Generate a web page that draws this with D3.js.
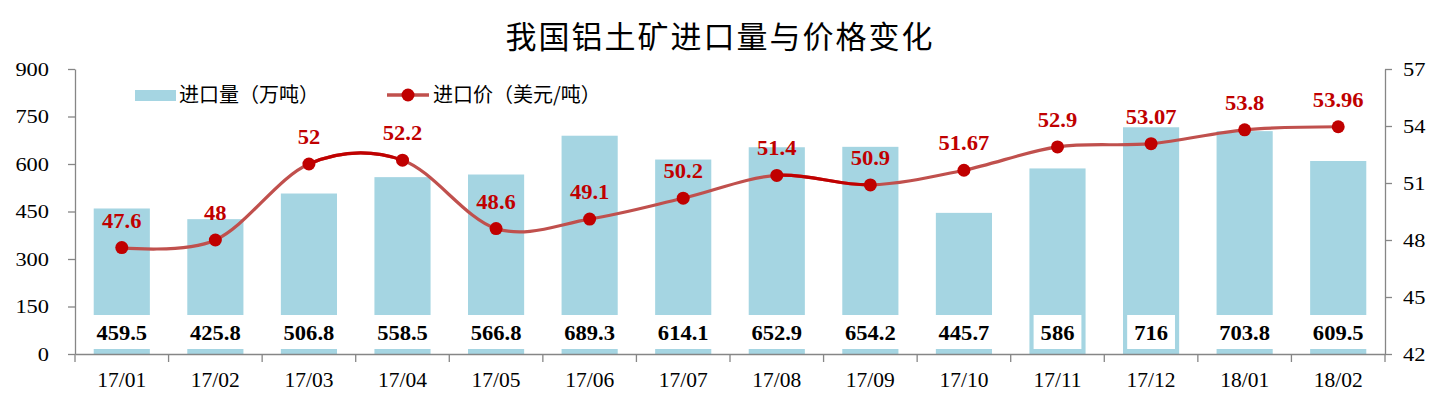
<!DOCTYPE html>
<html><head><meta charset="utf-8">
<script src="https://cdn.jsdelivr.net/npm/d3@7"></script>
<style>
body{margin:0;background:#fff;}
svg{display:block;}
</style></head>
<body>
<svg id="chart" width="1443" height="396"></svg>
<script>
const categories = ["17/01","17/02","17/03","17/04","17/05","17/06","17/07","17/08","17/09","17/10","17/11","17/12","18/01","18/02"];
const volumes = [459.5,425.8,506.8,558.5,566.8,689.3,614.1,652.9,654.2,445.7,586,716,703.8,609.5];
const volumeLabels = ["459.5","425.8","506.8","558.5","566.8","689.3","614.1","652.9","654.2","445.7","586","716","703.8","609.5"];
const prices = [47.6,48,52,52.2,48.6,49.1,50.2,51.4,50.9,51.67,52.9,53.07,53.8,53.96];
const priceLabels = ["47.6","48","52","52.2","48.6","49.1","50.2","51.4","50.9","51.67","52.9","53.07","53.8","53.96"];
const leftTicks = [0,150,300,450,600,750,900];
const rightTicks = [42,45,48,51,54,57];
const darkSegments = [[2,3],[7,8]];
const title = "我国铝土矿进口量与价格变化";
const legendBar = "进口量（万吨）";
const legendLine = "进口价（美元/吨）";

const svg = d3.select("#chart");
const L = 75, R = 1385, T = 69, B = 354;
const serif = "'Liberation Serif','Times New Roman',serif";
const cjk = "'Noto Sans CJK SC','Noto Sans',sans-serif";
const axisColor = "#868686";
const barColor = "#A5D5E2";
const lineColor = "#C0504D";
const darkRed = "#C00000";
const SX_TICK = 1.15, SX_LBL = 1.1;

const x = d3.scaleBand().domain(categories).range([L, R]).paddingInner(0.4).paddingOuter(0.2);
const xb = d3.scaleBand().domain(categories).range([L, R]);
const yL = d3.scaleLinear().domain([0, 900]).range([B, T]);
const yR = d3.scaleLinear().domain([42, 57]).range([B, T]);

// title
svg.append("text").attr("x", 720).attr("y", 48).attr("text-anchor", "middle")
  .attr("font-family", cjk).attr("font-size", 31).attr("letter-spacing", 2).attr("fill", "#000").text(title);

// bars
svg.append("g").selectAll("rect").data(volumes).join("rect")
  .attr("x", (d, i) => x(categories[i])).attr("width", x.bandwidth())
  .attr("y", d => yL(d)).attr("height", d => B - yL(d)).attr("fill", barColor);

// axes
const axL = d3.axisLeft(yL).tickValues(leftTicks).tickSize(7).tickSizeOuter(0).tickPadding(19);
const gL = svg.append("g").attr("transform", `translate(${L},0)`).call(axL);
const axR = d3.axisRight(yR).tickValues(rightTicks).tickSize(7).tickSizeOuter(0).tickPadding(11);
const gR = svg.append("g").attr("transform", `translate(${R},0)`).call(axR);
const axX = d3.axisBottom(xb).tickSize(0).tickSizeOuter(0).tickPadding(18);
const gX = svg.append("g").attr("transform", `translate(0,${B})`).call(axX);
const bounds = categories.map(c => xb(c)).concat([R]);
svg.append("g").selectAll("line").data(bounds).join("line")
  .attr("x1", d => d).attr("x2", d => d).attr("y1", B).attr("y2", B + 8)
  .attr("stroke", axisColor).attr("stroke-width", 1.3);

[gL, gR, gX].forEach(g => {
  g.select(".domain").attr("stroke", axisColor).attr("stroke-width", 1.3);
  g.selectAll(".tick line").attr("stroke", axisColor).attr("stroke-width", 1.3);
  g.selectAll(".tick text").attr("font-family", serif).attr("font-size", 19.5).attr("fill", "#000");
});
gL.selectAll(".tick text").attr("x", -26 / SX_TICK).attr("transform", `scale(${SX_TICK},1)`);
gR.selectAll(".tick text").attr("x", 18 / SX_TICK).attr("transform", `scale(${SX_TICK},1)`);
gX.selectAll(".tick text").attr("font-size", 21.5);

// value label boxes
const vl = svg.append("g");
volumes.forEach((v, i) => {
  const cx = x(categories[i]) + x.bandwidth() / 2;
  const t = vl.append("text").attr("x", 0).attr("y", 0).attr("text-anchor", "middle")
    .attr("transform", `translate(${cx},340) scale(${SX_LBL},1)`)
    .attr("font-family", serif).attr("font-weight", "bold").attr("font-size", 20.5).attr("fill", "#000")
    .text(volumeLabels[i]);
  const w = t.node().getComputedTextLength() * SX_LBL + 14;
  vl.insert("rect", "text").attr("x", cx - w / 2).attr("y", 315).attr("width", w).attr("height", 34)
    .attr("fill", "#fff");
});

// line
const pts = prices.map((p, i) => [x(categories[i]) + x.bandwidth() / 2, yR(p)]);
const lineGen = d3.line().curve(d3.curveCardinal.tension(0));
svg.append("path").attr("d", lineGen(pts)).attr("fill", "none").attr("stroke", lineColor).attr("stroke-width", 3.2);
const defs = svg.append("defs");
darkSegments.forEach((s, k) => {
  defs.append("clipPath").attr("id", "seg" + k).append("rect")
    .attr("x", pts[s[0]][0]).attr("width", pts[s[1]][0] - pts[s[0]][0]).attr("y", 0).attr("height", 396);
  svg.append("path").attr("d", lineGen(pts)).attr("fill", "none").attr("stroke", darkRed)
    .attr("stroke-width", 3.2).attr("clip-path", `url(#seg${k})`);
});
svg.append("g").selectAll("circle").data(pts).join("circle")
  .attr("cx", d => d[0]).attr("cy", d => d[1]).attr("r", 6.5).attr("fill", darkRed);
svg.append("g").selectAll("text").data(pts).join("text")
  .attr("x", 0).attr("y", 0).attr("text-anchor", "middle")
  .attr("transform", d => `translate(${d[0]},${d[1] - 20}) scale(${SX_LBL},1)`)
  .attr("font-family", serif).attr("font-weight", "bold").attr("font-size", 20.5).attr("fill", darkRed)
  .text((d, i) => priceLabels[i]);

// legend
svg.append("rect").attr("x", 135).attr("y", 90).attr("width", 41).attr("height", 11).attr("fill", barColor);
svg.append("text").attr("x", 179).attr("y", 102).attr("font-family", cjk).attr("font-size", 20).attr("fill", "#000").text(legendBar);
svg.append("line").attr("x1", 387).attr("x2", 429).attr("y1", 95).attr("y2", 95).attr("stroke", lineColor).attr("stroke-width", 3.5);
svg.append("circle").attr("cx", 408).attr("cy", 95).attr("r", 6.5).attr("fill", darkRed);
svg.append("text").attr("x", 433).attr("y", 102).attr("font-family", cjk).attr("font-size", 20).attr("fill", "#000").text(legendLine);
</script>
</body></html>
